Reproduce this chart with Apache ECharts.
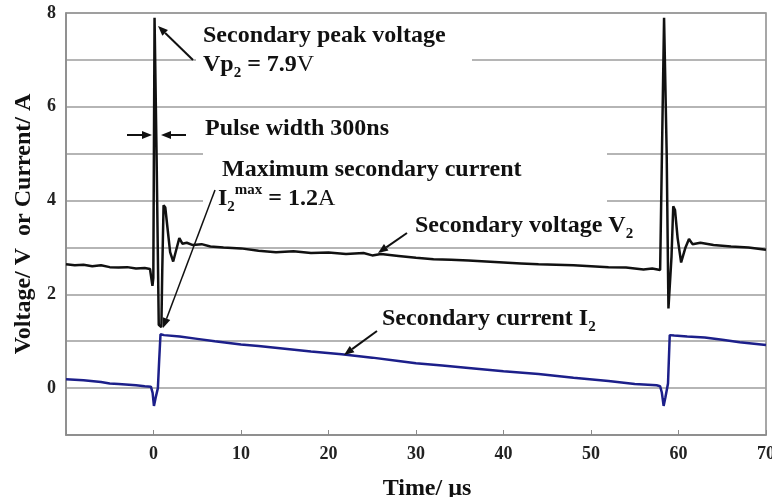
<!DOCTYPE html>
<html lang="en">
<head>
    <meta charset="UTF-8">
    <script src="https://cdn.jsdelivr.net/npm/echarts@6/dist/echarts.min.js"></script>
    <title>Secondary voltage and current</title>
    <style>
        html, body { margin: 0; padding: 0; background: #fff; }
        #main { width: 772px; height: 497px; }
    </style>
</head>
<body>
    <div id="main"></div>
<script>
// time in microseconds
var voltagePoints = [
    [-10, 2.64], [-9, 2.62], [-8, 2.63], [-7, 2.6], [-6, 2.62], [-5, 2.58], [-4, 2.57],
    [-3, 2.58], [-2, 2.55], [-1, 2.56], [-0.4, 2.54], [-0.25, 2.5], [-0.12, 2.18], [-0.02, 2.35],
    [0.12, 7.9], [0.35, 5.0], [0.6, 1.35], [0.9, 1.3], [1.0, 2.5], [1.15, 3.9], [1.35, 3.85],
    [1.55, 3.5], [1.9, 2.9], [2.25, 2.7], [2.6, 2.95], [2.95, 3.2], [3.3, 3.08], [3.8, 3.1],
    [4.5, 3.05], [5.5, 3.07], [6.5, 3.02], [8, 3.0], [10, 2.98], [12, 2.93], [14, 2.9],
    [16, 2.92], [18, 2.88], [20, 2.89], [22, 2.86], [24, 2.88], [25, 2.83], [26, 2.86],
    [28, 2.82], [30, 2.78], [32, 2.75], [34, 2.74], [36, 2.72], [38, 2.7], [40, 2.68],
    [42, 2.66], [44, 2.64], [46, 2.63], [48, 2.62], [50, 2.6], [52, 2.58], [54, 2.57],
    [56, 2.53], [57, 2.55], [57.9, 2.52], [58.05, 2.55], [58.35, 7.9], [58.65, 5.0],
    [58.85, 1.7], [59.05, 1.68], [59.2, 2.8], [59.4, 3.88], [59.6, 3.8], [59.9, 3.2],
    [60.3, 2.68], [60.8, 3.0], [61.2, 3.18], [61.6, 3.07], [62.5, 3.1], [64, 3.05],
    [66, 3.02], [68, 3.0], [70, 2.95]
];
var currentPoints = [
    [-10, 0.19], [-8, 0.17], [-6, 0.13], [-5, 0.1], [-4, 0.09], [-2, 0.06], [-1, 0.04],
    [-0.3, 0.03], [-0.1, -0.1], [0.05, -0.38], [0.25, -0.2], [0.5, 0.0], [0.65, 0.6],
    [0.8, 1.15], [1.2, 1.13], [3, 1.1], [5, 1.05], [7, 1.0], [10, 0.93], [12, 0.9],
    [15, 0.84], [18, 0.78], [21.5, 0.72], [25, 0.65], [28, 0.58], [30, 0.53], [33, 0.48],
    [36, 0.43], [40, 0.36], [44, 0.3], [48, 0.22], [52, 0.15], [55, 0.09], [57.5, 0.06],
    [57.9, 0.04], [58.1, -0.1], [58.3, -0.38], [58.5, -0.2], [58.8, 0.1], [59.0, 1.13],
    [59.5, 1.12], [61, 1.1], [63, 1.08], [65, 1.03], [67, 0.98], [70, 0.92]
];
var xTicks = [0, 10, 20, 30, 40, 50, 60, 70];
var yTicks = [0, 2, 4, 6, 8];

var serif = "'Liberation Serif', 'Times New Roman', serif";

// line with a filled head at (x2, y2)
function arrow(x1, y1, x2, y2, width) {
    var a = Math.atan2(y2 - y1, x2 - x1), L = 10, W = 4;
    var bx = x2 - L * Math.cos(a), by = y2 - L * Math.sin(a);
    return [
        { type: 'line', z: 60, shape: { x1: x1, y1: y1, x2: bx, y2: by },
          style: { stroke: '#111', lineWidth: width || 2 } },
        { type: 'polygon', z: 60, shape: { points: [[x2, y2],
            [bx + W * Math.sin(a), by - W * Math.cos(a)],
            [bx - W * Math.sin(a), by + W * Math.cos(a)]] },
          style: { fill: '#111' } }
    ];
}

var richStyles = {
    b: { fontFamily: serif, fontWeight: 'bold', fontSize: 24, lineHeight: 32, fill: '#111' },
    r: { fontFamily: serif, fontWeight: 'normal', fontSize: 24, lineHeight: 32, fill: '#111' },
    sub: { fontFamily: serif, fontWeight: 'bold', fontSize: 15, lineHeight: 15, verticalAlign: 'bottom', fill: '#111' },
    sup: { fontFamily: serif, fontWeight: 'bold', fontSize: 15, lineHeight: 24, verticalAlign: 'top', fill: '#111' }
};

function label(x, y, text) {
    return { type: 'text', z: 60, x: x, y: y,
        style: { text: text, rich: richStyles, align: 'left', verticalAlign: 'middle' } };
}

var graphics = [
    // white boxes behind the notes hide parts of the grid lines
    { type: 'rect', z: 50, shape: { x: 196, y: 22, width: 276, height: 64 }, style: { fill: '#fff' } },
    { type: 'rect', z: 50, shape: { x: 203, y: 142, width: 404, height: 68 }, style: { fill: '#fff' } },
    label(203, 36, '{b|Secondary peak voltage}'),
    label(203, 65, '{b|Vp}{sub|2}{b| = 7.9}{r|V}'),
    label(205, 129, '{b|Pulse width 300ns}'),
    label(222, 170, '{b|Maximum secondary current}'),
    label(218, 199, '{b|I}{sub|2}{sup|max}{b| = 1.2}{r|A}'),
    label(415, 226, '{b|Secondary voltage V}{sub|2}'),
    label(382, 319, '{b|Secondary current I}{sub|2}')
]
    .concat(arrow(193, 60, 158, 26))
    .concat(arrow(127, 135, 152, 135))
    .concat(arrow(186, 135, 161, 135))
    .concat(arrow(215, 190, 163, 328, 1.5))
    .concat(arrow(407, 233, 378, 253))
    .concat(arrow(377, 331, 344, 355));

var option = {
    animation: false,
    backgroundColor: '#fff',
    grid: {
        left: 66, right: 6, top: 13, bottom: 62, show: true,
        borderColor: '#8a8a8a', borderWidth: 1.5, outerBoundsMode: 'none', containLabel: false
    },
    xAxis: {
        type: 'value', min: -10, max: 70, interval: 10,
        name: 'Time/ \u00b5s', nameLocation: 'middle', nameGap: 42,
        nameTextStyle: { fontFamily: serif, fontWeight: 'bold', fontSize: 24, color: '#111', padding: [0, 0, 0, 22] },
        axisLine: { onZero: false, lineStyle: { color: '#8a8a8a', width: 1.5 } },
        axisTick: { inside: true, length: 5, lineStyle: { color: '#8a8a8a' } },
        splitLine: { show: false },
        axisLabel: {
            margin: 10, fontFamily: serif, fontWeight: 'bold', fontSize: 18, color: '#222',
            formatter: function (v) { return xTicks.indexOf(v) >= 0 ? String(v) : ''; }
        }
    },
    yAxis: {
        type: 'value', min: -1, max: 8, interval: 1,
        name: 'Voltage/ V  or Current/ A', nameLocation: 'middle', nameGap: 30,
        nameTextStyle: { fontFamily: serif, fontWeight: 'bold', fontSize: 24, color: '#111' },
        axisLine: { show: true, onZero: false, lineStyle: { color: '#8a8a8a', width: 1.5 } },
        axisTick: { show: false },
        splitLine: { lineStyle: { color: '#9c9c9c', width: 1.5 } },
        axisLabel: {
            margin: 10, fontFamily: serif, fontWeight: 'bold', fontSize: 18, color: '#222',
            formatter: function (v) { return yTicks.indexOf(v) >= 0 ? String(v) : ''; }
        }
    },
    series: [
        {
            name: 'Secondary voltage', type: 'line', data: voltagePoints,
            showSymbol: false, lineStyle: { color: '#111', width: 2.5 }
        },
        {
            name: 'Secondary current', type: 'line', data: currentPoints,
            showSymbol: false, lineStyle: { color: '#1c1f8a', width: 2.5 }
        }
    ],
    graphic: graphics
};

var myChart = echarts.init(document.getElementById('main'));
myChart.setOption(option);
</script>
</body>
</html>
